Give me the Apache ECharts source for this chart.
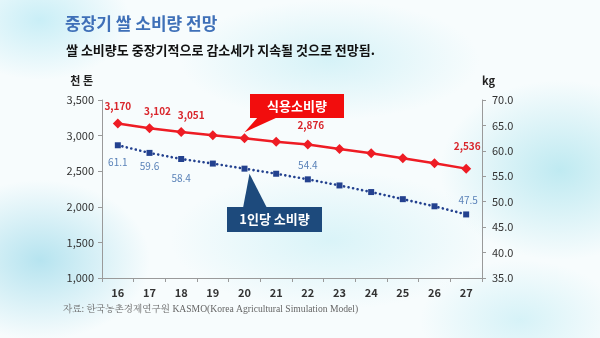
<!DOCTYPE html>
<html><head><meta charset="utf-8">
<script src="https://cdn.jsdelivr.net/npm/echarts@6/dist/echarts.min.js"></script>
<style>
html,body{margin:0;padding:0;}
body{width:600px;height:338px;overflow:hidden;
background:
radial-gradient(ellipse 90px 60px at 40px 20px, rgba(190,235,245,0.8), rgba(190,235,245,0) 100%),
radial-gradient(ellipse 120px 90px at 560px 170px, rgba(185,232,240,0.9), rgba(185,232,240,0) 100%),
radial-gradient(ellipse 110px 80px at 40px 260px, rgba(175,225,238,0.9), rgba(175,225,238,0) 100%),
radial-gradient(ellipse 150px 60px at 330px 60px, rgba(200,238,245,0.7), rgba(200,238,245,0) 100%),
radial-gradient(ellipse 160px 70px at 330px 240px, rgba(205,240,246,0.7), rgba(205,240,246,0) 100%),
radial-gradient(ellipse 100px 60px at 520px 320px, rgba(200,238,245,0.7), rgba(200,238,245,0) 100%),
#f7fcfd;}
#c{width:600px;height:338px;}
</style></head>
<body><div id="c"></div>
<script>
const categories = ['16','17','18','19','20','21','22','23','24','25','26','27'];
const foodUse = [3170, 3102, 3051, 3005, 2962, 2915, 2876, 2812, 2752, 2682, 2612, 2536];
const perCapita = [61.1, 59.6, 58.4, 57.5, 56.5, 55.5, 54.4, 53.2, 51.9, 50.5, 49.1, 47.5];
const leftTicks = {min: 1000, max: 3500, interval: 500};
const rightTicks = {min: 35, max: 70, interval: 5};
const redLabelIdx = [0, 1, 2, 6, 11];
const blueLabelIdx = [0, 1, 2, 6, 11];

const FONT = '"Noto Sans CJK KR", "Noto Sans", sans-serif';
const fmt = v => String(v).replace(/\B(?=(\d{3})+(?!\d))/g, ',');

const redLabelOffsets = {0:[0,-2],1:[8,-2],2:[10,-2],6:[3,-4],11:[1,-7]};
const blueLabelPos = {0:['bottom',[0,4]],1:['bottom',[0,0]],2:['bottom',[0,6]],6:['top',[0,-1]],11:['top',[2,-1]]};

const redData = foodUse.map((v,i)=>{
  const d = {value: v};
  if (redLabelIdx.includes(i)) {
    d.label = {show:true, position:'top', offset: redLabelOffsets[i], formatter: p=>fmt(p.value)};
  }
  return d;
});
const blueData = perCapita.map((v,i)=>{
  const d = {value: v};
  if (blueLabelIdx.includes(i)) {
    d.label = {show:true, position: blueLabelPos[i][0], offset: blueLabelPos[i][1], formatter: p=>p.value.toFixed(1)};
  }
  return d;
});

const chart = echarts.init(document.getElementById('c'), null, {renderer:'canvas'});
const axisLineStyle = {color:'#9a9a9a', width:1};
chart.setOption({
  backgroundColor: 'transparent',
  textStyle: {fontFamily: FONT},
  animation: false,
  grid: {left: 102, right: 118, top: 100, bottom: 60},
  title: [
    {text: '중장기 쌀 소비량 전망', left: 60, top: 10,
     textStyle: {fontFamily: FONT, fontSize: 17, fontWeight: 'bold', color: '#3f70b8'}},
    {text: '쌀 소비량도 중장기적으로 감소세가 지속될 것으로 전망됨.', left: 61, top: 39,
     textStyle: {fontFamily: FONT, fontSize: 13, fontWeight: 'bold', color: '#111'}}
  ],
  xAxis: {
    type: 'category', data: categories, boundaryGap: true,
    axisLine: {show: true, lineStyle: axisLineStyle},
    axisTick: {show: true, length: 4, lineStyle: axisLineStyle},
    axisLabel: {fontFamily: FONT, fontSize: 11, fontWeight: 'bold', color: '#333', margin: 9}
  },
  yAxis: [
    {type: 'value', min: leftTicks.min, max: leftTicks.max, interval: leftTicks.interval,
     name: '천 톤', nameLocation: 'end', nameGap: 14,
     nameTextStyle: {fontFamily: FONT, fontSize: 11, fontWeight: 'bold', color: '#222', align: 'right', padding: [0, 9, 0, 0]},
     axisLine: {show: true, lineStyle: axisLineStyle},
     axisTick: {show: true, length: 4, lineStyle: axisLineStyle},
     splitLine: {show: false},
     axisLabel: {fontFamily: FONT, fontSize: 11, color: '#333', margin: 8, formatter: v=>fmt(v)}},
    {type: 'value', min: rightTicks.min, max: rightTicks.max, interval: rightTicks.interval,
     position: 'right', name: 'kg', nameLocation: 'end', nameGap: 14,
     nameTextStyle: {fontFamily: FONT, fontSize: 11, fontWeight: 'bold', color: '#222', align: 'left', padding: [0,0,0,0]},
     axisLine: {show: true, lineStyle: axisLineStyle},
     axisTick: {show: true, length: 4, lineStyle: axisLineStyle},
     splitLine: {show: false},
     axisLabel: {fontFamily: FONT, fontSize: 11, color: '#333', margin: 10, formatter: v=>v.toFixed(1)}}
  ],
  series: [
    {name: '식용소비량', type: 'line', yAxisIndex: 0, data: redData,
     symbol: 'diamond', symbolSize: 10,
     lineStyle: {color: '#ee1c24', width: 2.5},
     itemStyle: {color: '#ee1c24'},
     label: {show: false, fontFamily: FONT, fontSize: 10, fontWeight: 'bold', color: '#d9262c'}},
    {name: '1인당 소비량', type: 'line', yAxisIndex: 1, data: blueData,
     symbol: 'rect', symbolSize: 6,
     lineStyle: {color: '#23418f', width: 2.6, type: [0.1, 4.5], cap: 'round'},
     itemStyle: {color: '#23418f'},
     label: {show: false, fontFamily: FONT, fontSize: 10, color: '#5a82b8'}}
  ]
});

// callouts anchored to the data points
const rTip = chart.convertToPixel({xAxisIndex:0, yAxisIndex:0}, [categories[4], foodUse[4]]);
const bTip = chart.convertToPixel({xAxisIndex:0, yAxisIndex:1}, [categories[4], perCapita[4]]);
chart.setOption({
  graphic: [
    {type: 'polygon', shape: {points: [[rTip[0], rTip[1]-6], [258, 117], [278, 117]]}, style: {fill: '#f20d0d'}},
    {type: 'rect', shape: {x: 250, y: 94, width: 94, height: 24}, style: {fill: '#f20d0d'}},
    {type: 'text', style: {text: '식용소비량', x: 297, y: 106, align: 'center', verticalAlign: 'middle',
      fill: '#fff', font: 'bold 13px ' + FONT}},
    {type: 'polygon', shape: {points: [[bTip[0]+5, bTip[1]+5], [243, 208], [267, 208]]}, style: {fill: '#1d4a7c'}},
    {type: 'rect', shape: {x: 227, y: 207, width: 95, height: 25}, style: {fill: '#1d4a7c'}},
    {type: 'text', style: {text: '1인당 소비량', x: 274.5, y: 219.5, align: 'center', verticalAlign: 'middle',
      fill: '#fff', font: 'bold 13px ' + FONT}},
    {type: 'text', style: {text: '자료: 한국농촌경제연구원 KASMO(Korea Agricultural Simulation Model)', x: 63, y: 309,
      verticalAlign: 'middle', fill: '#666', font: '9.6px "Liberation Serif", "Noto Serif CJK KR", serif'}}
  ]
});
</script></body></html>
